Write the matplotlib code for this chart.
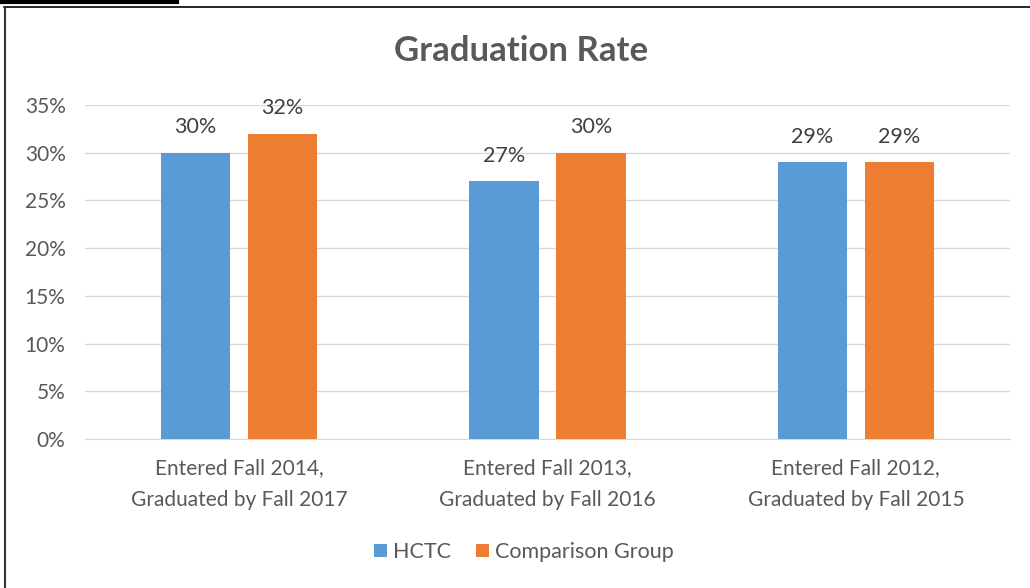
import numpy as np
import matplotlib
matplotlib.use("Agg")
import matplotlib.pyplot as plt
from matplotlib.lines import Line2D

categories = ["Entered Fall 2014,\nGraduated by Fall 2017",
              "Entered Fall 2013,\nGraduated by Fall 2016",
              "Entered Fall 2012,\nGraduated by Fall 2015"]
hctc = [30, 27, 29]
comparison = [32, 30, 29]
yticks = [0, 5, 10, 15, 20, 25, 30, 35]

GREY = "#595959"
plt.rcParams["font.family"] = ["Lato", "DejaVu Sans"]

W, H = 1030, 588
fig = plt.figure(figsize=(W / 100, H / 100), dpi=100)
ax = fig.add_axes([85 / W, 1 - 439 / H, 925 / W, (439 - 105) / H])

x = np.arange(len(categories))
bw, off = 0.224, 0.141
b1 = ax.bar(x - off, hctc, bw, color="#5B9BD5", label="HCTC", zorder=3)
b2 = ax.bar(x + off, comparison, bw, color="#ED7D31", label="Comparison Group", zorder=3)
for bars in (b1, b2):
    ax.bar_label(bars, labels=[f"{v}%" for v in bars.datavalues], padding=11,
                 fontsize=15.5, color="#404040")

ax.set_xlim(-0.5, 2.5)
ax.set_ylim(0, 35)
ax.set_yticks(yticks)
ax.set_yticklabels([f"{v}%" for v in yticks])
ax.set_xticks(x)
ax.set_xticklabels(categories, linespacing=1.7)
ax.tick_params(axis="both", length=0, labelsize=15, labelcolor=GREY)
ax.tick_params(axis="y", pad=14)
ax.tick_params(axis="x", pad=14)
ax.grid(axis="y", color="#D9D9D9", lw=1, zorder=0)
for s in ("top", "right", "left"):
    ax.spines[s].set_visible(False)
ax.spines["bottom"].set_color("#D9D9D9")

fig.text(521 / W, 1 - 51 / H, "Graduation Rate", ha="center", va="center",
         fontsize=25, fontweight="bold", color=GREY)

fig.legend(handles=[b1, b2], loc="center", bbox_to_anchor=(524 / W, 1 - 552 / H),
           ncol=2, frameon=False, fontsize=15.5, handlelength=0.6, handleheight=0.6,
           handletextpad=0.3, columnspacing=1.15, labelcolor=GREY)

# page frame
fig.add_artist(Line2D([0, 177 / W], [1 - 1.5 / H] * 2, color="black", lw=3))
fig.add_artist(Line2D([4 / W, 1], [1 - 6.5 / H] * 2, color="black", lw=1.2))
fig.add_artist(Line2D([5 / W] * 2, [0, 1 - 6.5 / H], color="#333333", lw=1.5))

fig.savefig("out.png", dpi=100)
